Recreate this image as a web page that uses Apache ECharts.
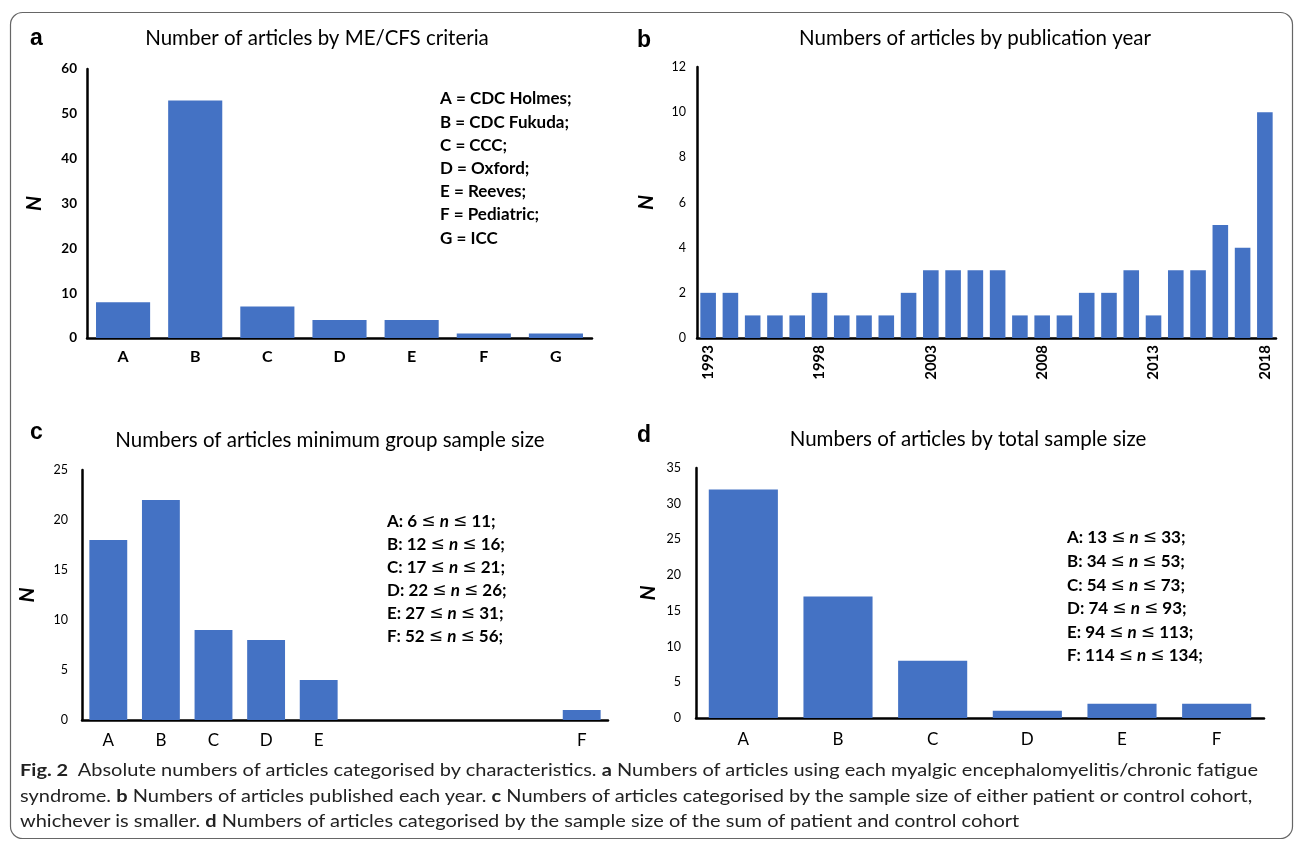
<!DOCTYPE html>
<html>
<head>
<meta charset="utf-8">
<script src="https://cdn.jsdelivr.net/npm/echarts@6/dist/echarts.min.js"></script>
<style>
  html, body { margin: 0; padding: 0; background: #fff; }
  #chart { width: 1295px; height: 841px; }
  #caption {
    position: absolute; left: 20px; top: 757px;
    font-family: Lato, "Noto Sans", sans-serif; font-size: 17px; color: #222;
    line-height: 25.5px; white-space: nowrap; transform-origin: 0 0;
  }
  #caption b { font-weight: 700; }
</style>
</head>
<body>
<div id="chart"></div>
<div id="caption">
  <div><b>Fig. 2</b>&nbsp; Absolute numbers of articles categorised by characteristics. <b>a</b> Numbers of articles using each myalgic encephalomyelitis/chronic fatigue</div>
  <div>syndrome. <b>b</b> Numbers of articles published each year. <b>c</b> Numbers of articles categorised by the sample size of either patient or control cohort,</div>
  <div>whichever is smaller. <b>d</b> Numbers of articles categorised by the sample size of the sum of patient and control cohort</div>
</div>
<script>
// panel a
const criteriaCats = ["A", "B", "C", "D", "E", "F", "G"];
const criteriaVals = [8, 53, 7, 4, 4, 1, 1];
const criteriaKey = ["A = CDC Holmes;", "B = CDC Fukuda;", "C = CCC;", "D = Oxford;", "E = Reeves;", "F = Pediatric;", "G = ICC"];

// panel b
const years = ["1993", "1994", "1995", "1996", "1997", "1998", "1999", "2000", "2001", "2002", "2003", "2004", "2005",
  "2006", "2007", "2008", "2009", "2010", "2011", "2012", "2013", "2014", "2015", "2016", "2017", "2018"];
const yearVals = [2, 2, 1, 1, 1, 2, 1, 1, 1, 2, 3, 3, 3, 3, 1, 1, 1, 2, 2, 3, 1, 3, 3, 5, 4, 10];

// panel c (empty bins between E and F)
const minGroupCats = ["A", "B", "C", "D", "E", "", "", "", "", "F"];
const minGroupVals = [18, 22, 9, 8, 4, 0, 0, 0, 0, 1];
const minGroupKey = ["A: 6 {s|≤} {i|n} {s|≤} 11;", "B: 12 {s|≤} {i|n} {s|≤} 16;", "C: 17 {s|≤} {i|n} {s|≤} 21;",
  "D: 22 {s|≤} {i|n} {s|≤} 26;", "E: 27 {s|≤} {i|n} {s|≤} 31;", "F: 52 {s|≤} {i|n} {s|≤} 56;"];

// panel d
const totalCats = ["A", "B", "C", "D", "E", "F"];
const totalVals = [32, 17, 8, 1, 2, 2];
const totalKey = ["A: 13 {s|≤} {i|n} {s|≤} 33;", "B: 34 {s|≤} {i|n} {s|≤} 53;", "C: 54 {s|≤} {i|n} {s|≤} 73;",
  "D: 74 {s|≤} {i|n} {s|≤} 93;", "E: 94 {s|≤} {i|n} {s|≤} 113;", "F: 114 {s|≤} {i|n} {s|≤} 134;"];

const FONT = "Lato, 'Noto Sans', sans-serif";
const BLUE = "#4472C4";

const chart = echarts.init(document.getElementById("chart"));

function xAx(idx, cats, labelOpts) {
  return {
    type: "category", gridIndex: idx, data: cats,
    axisLine: { lineStyle: { color: "#000", width: 2.5 } },
    axisTick: { show: false },
    axisLabel: Object.assign({ interval: 0, color: "#000", fontFamily: FONT, fontWeight: "bold", fontSize: 16 }, labelOpts)
  };
}
function yAx(idx, max, step, gap, labelOpts) {
  return {
    type: "value", gridIndex: idx, min: 0, max: max, interval: step,
    name: "N", nameLocation: "middle", nameRotate: 90, nameGap: gap,
    nameTextStyle: { color: "#000", fontFamily: FONT, fontWeight: "bold", fontStyle: "italic", fontSize: 21 },
    axisLine: { show: true, lineStyle: { color: "#000", width: 2.5 } },
    axisTick: { show: false },
    splitLine: { show: false },
    axisLabel: Object.assign({ color: "#000", fontFamily: FONT, fontSize: 12.5 }, labelOpts)
  };
}
function bars(idx, vals, gap) {
  return {
    type: "bar", xAxisIndex: idx, yAxisIndex: idx, data: vals,
    barCategoryGap: gap, itemStyle: { color: BLUE }, silent: true
  };
}
function txt(x, y, s, size, weight, align) {
  return {
    type: "text", x: x, y: y,
    style: {
      text: s, fontFamily: FONT, fontSize: size, fontWeight: weight || "normal",
      fill: "#000", textAlign: align || "left", textVerticalAlign: "middle"
    }
  };
}
function letter(x, y, s) {
  return {
    type: "text", x: x, y: y,
    style: { text: s, fontFamily: "'Liberation Sans', Arial, sans-serif", fontSize: 23, fontWeight: "bold", fill: "#000", textVerticalAlign: "middle" }
  };
}
function keyLines(x, y0, dy, lines) {
  return lines.map((s, k) => ({
    type: "text", x: x, y: y0 + k * dy,
    style: {
      text: s, fontFamily: FONT, fontSize: 17, fontWeight: "bold", fill: "#000", textVerticalAlign: "middle",
      rich: {
        i: { fontFamily: FONT, fontSize: 17, fontWeight: "bold", fontStyle: "italic", fill: "#000" },
        s: { fontFamily: "'DejaVu Sans', sans-serif", fontSize: 17, fontWeight: "normal", fill: "#000" }
      }
    }
  }));
}

const option = {
  animation: false,
  grid: [
    { left: 87, top: 69, width: 505, height: 269 },
    { left: 697, top: 67, width: 579, height: 271 },
    { left: 82, top: 470, width: 526, height: 250 },
    { left: 696, top: 468, width: 568, height: 250 }
  ],
  xAxis: [
    xAx(0, criteriaCats, { margin: 11 }),
    xAx(1, years, { interval: 4, rotate: 90, margin: 7, fontSize: 15 }),
    xAx(2, minGroupCats, { margin: 12, fontSize: 17, fontWeight: "normal" }),
    xAx(3, totalCats, { margin: 13, fontSize: 17, fontWeight: "normal" })
  ],
  yAxis: [
    yAx(0, 60, 10, 42, { fontWeight: "bold", fontSize: 13.5, margin: 10 }),
    yAx(1, 12, 2, 40, { margin: 11 }),
    yAx(2, 25, 5, 44, { margin: 14 }),
    yAx(3, 35, 5, 37, { margin: 15 })
  ],
  series: [
    bars(0, criteriaVals, "25%"),
    bars(1, yearVals, "30%"),
    bars(2, minGroupVals, "28%"),
    bars(3, totalVals, "27%")
  ],
  graphic: [
    {
      type: "rect", shape: { x: 10.5, y: 12.5, width: 1282, height: 826, r: 12 },
      style: { fill: "none", stroke: "#666", lineWidth: 1.2 }
    },
    letter(30, 39, "a"),
    letter(637, 41, "b"),
    letter(30, 433, "c"),
    letter(637, 436, "d"),
    txt(317, 38, "Number of articles by ME/CFS criteria", 20.5, "normal", "center"),
    txt(975, 38, "Numbers of articles by publication year", 20.5, "normal", "center"),
    txt(330, 440, "Numbers of articles minimum group sample size", 20.5, "normal", "center"),
    txt(968, 439, "Numbers of articles by total sample size", 20.5, "normal", "center")
  ]
    .concat(keyLines(440, 99, 23.2, criteriaKey))
    .concat(keyLines(387, 522, 23, minGroupKey))
    .concat(keyLines(1067, 538, 23.6, totalKey))
};

chart.setOption(option);

// squeeze the caption so that its first line spans the same width as in the figure
const cap = document.getElementById("caption");
const first = cap.firstElementChild;
const range = document.createRange();
range.selectNodeContents(first);
const w = range.getBoundingClientRect().width;
if (w > 0) cap.style.transform = "scaleX(" + (1238 / w) + ")";
</script>
</body>
</html>
